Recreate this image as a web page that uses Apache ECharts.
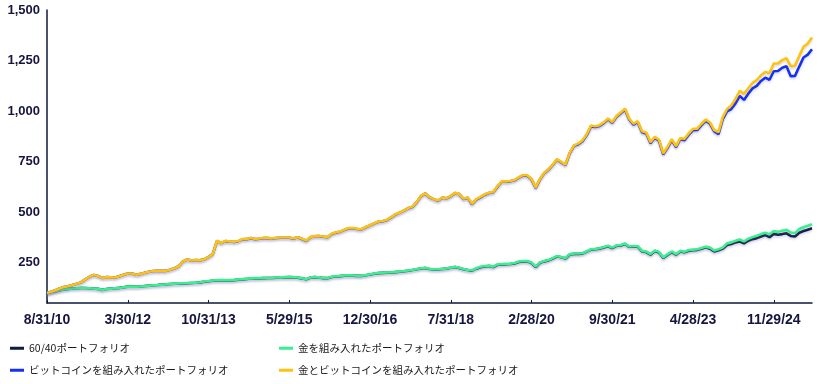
<!DOCTYPE html>
<html>
<head>
<meta charset="utf-8">
<script src="https://cdn.jsdelivr.net/npm/echarts@6/dist/echarts.min.js"></script>
<style>html,body{margin:0;padding:0;background:#fff;}#c{width:827px;height:384px;}</style>
</head>
<body>
<div id="c"></div>
<script>
// Month-end (last business day) categories, Aug 2010 .. Aug 2025
const categories = [];
for (let k = 0; k <= 180; k++) {
  const y = 2010 + Math.floor((7 + k) / 12);
  const m = (7 + k) % 12;
  const d = new Date(Date.UTC(y, m + 1, 0));
  while (d.getUTCDay() === 0 || d.getUTCDay() === 6) d.setUTCDate(d.getUTCDate() - 1);
  categories.push((m + 1) + '/' + d.getUTCDate() + '/' + String(y).slice(2));
}

const yTicks = [250, 500, 750, 1000, 1250, 1500];

const names = ['60/40ポートフォリオ', '金を組み入れたポートフォリオ', 'ビットコインを組み入れたポートフォリオ', '金とビットコインを組み入れたポートフォリオ'];

const goldBtc = [100,106,113,122,129,133,139,145,152,167,180,189,184,174,178,177,176,182,190,196,
196,190,194,200,205,208,209,209,209,215,222,232,256,265,260,263,261,266,278,292,
358,347,357,355,353,357,366,367,372,367,369,373,372,370,373,374,374,374,370,376,
368,359,376,381,382,379,376,393,400,404,413,421,421,417,415,426,435,445,453,456,
462,475,489,498,508,520,527,550,580,593,574,565,557,572,569,580,595,590,566,572,
541,564,575,588,596,600,628,652,652,654,659,672,683,682,664,622,664,695,712,735,
762,748,735,794,830,840,855,885,928,925,930,944,963,946,976,993,1012,962,937,950,
900,894,846,872,858,791,822,861,826,866,863,890,912,913,937,958,944,906,896,970,
1010,1028,1060,1100,1085,1113,1139,1153,1177,1193,1187,1235,1236,1252,1262,1222,1224,1272,1318,1334,
1364];

const btc = [100,106,113,122,129,133,139,145,152,167,180,189,184,174,178,177,176,182,190,196,
196,190,194,200,205,208,209,209,209,215,222,232,256,265,260,263,261,266,278,292,
357,346,356,354,352,356,365,366,371,366,368,372,371,369,372,373,373,373,369,375,
367,358,375,380,381,378,375,392,399,403,412,420,420,416,414,425,434,444,452,455,
461,474,488,497,507,519,526,549,579,592,573,564,556,571,568,579,594,589,565,571,
539,562,573,586,594,598,626,650,650,652,657,670,681,680,662,620,662,693,710,733,
760,746,733,792,828,836,851,881,924,921,926,940,959,942,972,989,1008,958,933,946,
895,889,841,867,853,786,817,856,821,861,856,883,905,906,930,951,937,899,886,960,
998,1010,1038,1075,1055,1086,1112,1125,1149,1165,1155,1197,1198,1214,1222,1172,1174,1220,1265,1279,
1306];

const gold = [100,104,108,113,117,120,122,123,124,124,123,122,120,115,119,121,123,125,128,131,
131,131,132,134,136,138,139,141,142,144,146,147,148,149,150,151,153,156,159,161,
163,163,163,163,164,166,168,170,172,173,173,174,175,175,176,177,178,179,178,176,
173,168,177,179,177,174,174,180,182,184,186,187,186,185,185,188,192,196,199,200,
201,202,204,206,208,211,214,218,222,224,219,217,217,219,221,225,229,224,218,214,
212,222,229,233,235,230,241,243,244,245,248,255,258,258,250,230,251,258,263,272,
283,278,272,292,295,295,296,306,316,318,321,327,333,324,335,337,344,330,332,331,
308,305,292,310,303,276,291,305,292,308,304,312,314,316,322,329,324,310,316,324,
345,350,358,364,355,368,376,383,391,398,390,406,402,408,412,399,396,416,425,432,
440];

const base6040 = [100,104,108,113,117,120,122,123,124,124,123,122,120,115,119,121,123,125,128,131,
131,131,132,134,136,138,139,141,142,144,145,146,147,148,149,150,152,155,158,160,
162,162,162,162,163,165,167,169,171,172,172,173,174,174,175,176,177,178,177,175,
172,167,176,178,176,173,173,179,181,183,185,186,185,184,184,187,191,195,198,199,
200,201,203,205,207,210,213,217,221,223,218,216,216,218,220,224,228,223,217,213,
210,220,227,231,233,228,239,241,242,243,246,253,256,256,248,228,249,256,261,270,
281,276,270,290,293,293,294,304,314,316,319,325,331,322,333,335,342,328,330,329,
305,302,289,307,300,273,288,302,289,305,301,309,311,313,319,326,319,305,311,319,
337,342,350,354,345,358,366,371,379,386,376,392,388,391,395,382,379,398,406,413,
420];

const colors = ['#111a40', '#3bee90', '#1530f0', '#ffc20e'];
const seriesData = [base6040, gold, btc, goldBtc];

const axisColor = '#0d1a3e';
const labelFont = {fontFamily: 'Liberation Sans, Arial, sans-serif', fontWeight: 'bold', color: '#15153f'};

const chart = echarts.init(document.getElementById('c'), null, {renderer: 'canvas'});

const legendPos = [
  {left: 10, top: 343}, {left: 279, top: 343},
  {left: 10, top: 365}, {left: 279, top: 365}
];

chart.setOption({
  animation: false,
  backgroundColor: '#fff',
  grid: {left: 47, right: 15, top: 10, bottom: 81, containLabel: false},
  xAxis: {
    type: 'category',
    data: categories,
    boundaryGap: false,
    axisLine: {lineStyle: {color: axisColor, width: 1.5}},
    axisTick: {show: true, inside: true, length: 3, interval: 18, lineStyle: {color: axisColor}},
    axisLabel: Object.assign({interval: 18, fontSize: 14, margin: 10}, labelFont),
    splitLine: {show: false}
  },
  yAxis: {
    type: 'value',
    min: 50,
    max: 1500,
    axisLine: {show: true, lineStyle: {color: axisColor, width: 1.5}},
    axisTick: {show: false},
    splitLine: {show: false},
    axisLabel: Object.assign({
      fontSize: 13, margin: 7,
      customValues: yTicks,
      formatter: v => v.toLocaleString('en-US')
    }, labelFont)
  },
  legend: names.map((n, i) => ({
    data: [n],
    left: legendPos[i].left,
    top: legendPos[i].top,
    icon: 'rect',
    itemWidth: 14,
    itemHeight: 3,
    padding: 0,
    textStyle: {fontFamily: 'Noto Sans CJK JP, sans-serif', fontSize: 10.5, color: '#1a1a1a'}
  })),
  series: names.map((n, i) => ({
    name: n,
    type: 'line',
    data: seriesData[i],
    showSymbol: false,
    symbol: 'none',
    color: colors[i],
    lineStyle: {
      width: 2.6, color: colors[i],
      shadowColor: 'rgba(120,120,180,0.25)', shadowBlur: 2, shadowOffsetY: 2
    },
    z: 2 + i
  }))
});
</script>
</body>
</html>
